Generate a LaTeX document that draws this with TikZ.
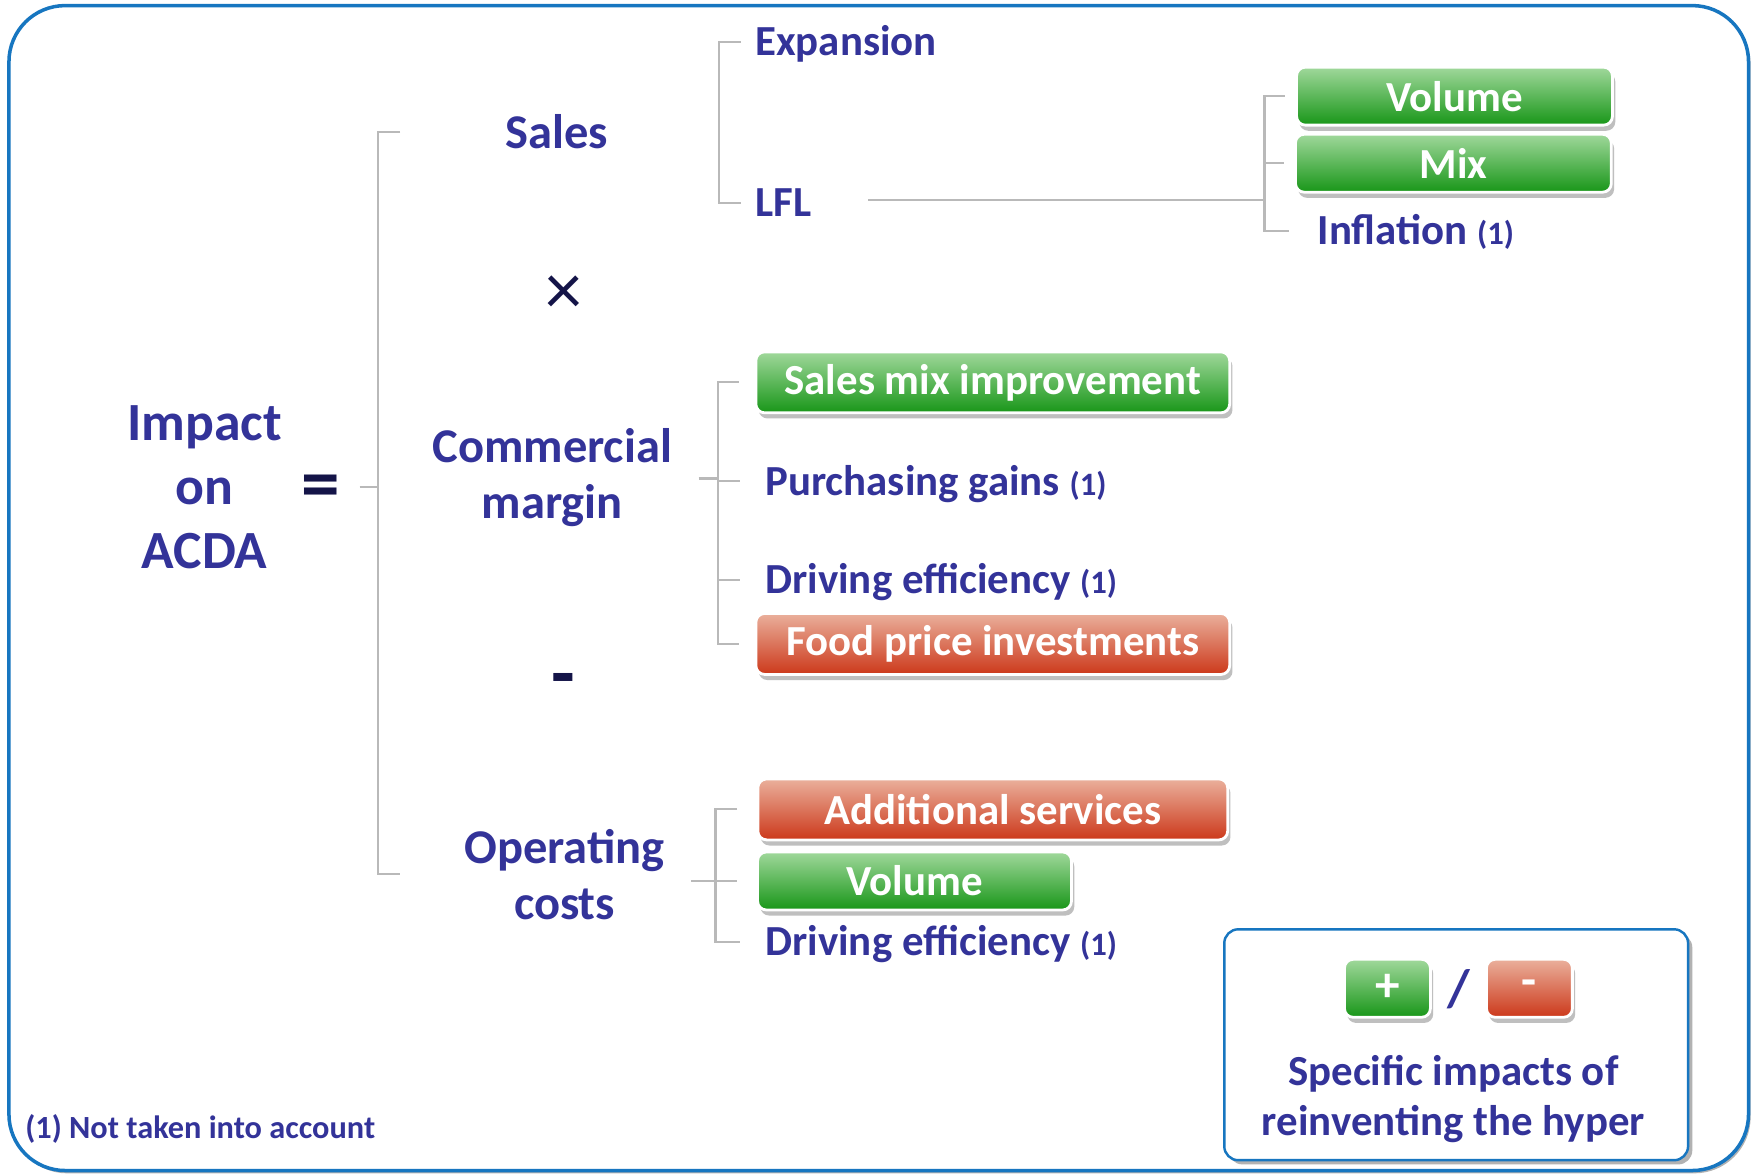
\documentclass[tikz,border=0pt]{standalone}
\usepackage{fontspec}
\setmainfont{Carlito}
\usepackage{tikz}
\usetikzlibrary{positioning, shadows}

\definecolor{navy}{RGB}{51,51,153}
\definecolor{symb}{RGB}{20,20,72}
\definecolor{frameblue}{RGB}{23,118,192}
\definecolor{gtop}{RGB}{160,216,155}
\definecolor{gbot}{RGB}{24,150,24}
\definecolor{rtop}{RGB}{234,176,156}
\definecolor{rbot}{RGB}{204,56,26}
\definecolor{linegray}{RGB}{185,185,185}

\newcommand{\notone}{{\fontsize{9.3}{10}\selectfont (1)}}

\tikzset{
  head/.style={font=\fontsize{13.8}{15.9}\selectfont\bfseries, text=navy, align=center},
  item/.style={font=\fontsize{12.2}{14}\selectfont\bfseries, text=navy, anchor=base west,
    inner sep=0pt, text height=7.9pt, text depth=0pt},
  sym/.style={font=\fontsize{22}{22}\selectfont\bfseries, text=symb},
  conn/.style={draw=linegray, line width=0.6pt},
  box/.style={rounded corners=2.5pt, draw=white, line width=0.8pt, text=white,
    font=\fontsize{12.2}{14}\selectfont\bfseries, inner sep=0pt, minimum height=0.58cm,
    drop shadow={shadow xshift=0.8pt, shadow yshift=-1.6pt, fill=black!25, opacity=1}},
  gbox/.style={box, top color=gtop, bottom color=gbot},
  rbox/.style={box, top color=rtop, bottom color=rbot}
}

\begin{document}
\begin{tikzpicture}[x=0.01118cm, y=-0.01118cm]
\useasboundingbox (0,0) rectangle (1568,1051);

% Frame
\path[fill=white, draw=frameblue, line width=1pt, rounded corners=16pt,
  drop shadow={shadow xshift=0.6pt, shadow yshift=-0.8pt, fill=black!30, opacity=1}]
  (8,5) rectangle (1564,1047);

% Left side
\node[head, font=\fontsize{15.3}{18.2}\selectfont\bfseries] (acda) at (183,436) {Impact\\on\\ACDA};
\node[sym] (eq) at (287,440) {=};
\node[head] (sales) at (498,118) {Sales};
\node[sym, font=\fontsize{21}{21}\selectfont] (times) at (504,264) {×};
\node[head] (cm) at (494,427) {Commercial\\margin};
\node[sym] (minus) at (504,614) {-};
\node[head] (opc) at (505,782) {Operating\\costs};

% Sales branch
\node[item] (expa) at (675,50) {Expansion};
\node[item] (lfl) at (675,194) {LFL};
\node[gbox, minimum width=3.16cm] (vol) at (1301,86) {Volume};
\node[gbox, minimum width=3.16cm] (mix) at (1300,146) {Mix};
\node[item] (infl) at (1178,219) {Inflation \notone};

% Commercial margin branch
\node[gbox, minimum width=4.74cm, minimum height=0.61cm] (smi) at (888,342) {Sales mix improvement};
\node[item] (purch) at (684,443) {Purchasing gains \notone};
\node[item] (drv1) at (684,531) {Driving efficiency \notone};
\node[rbox, minimum width=4.74cm, minimum height=0.61cm] (food) at (888,576) {Food price investments};

% Operating costs branch
\node[rbox, minimum width=4.70cm, minimum height=0.61cm] (adds) at (888,724) {Additional services};
\node[gbox, minimum width=3.14cm] (vol2) at (818,788) {Volume};
\node[item] (drv2) at (684,855) {Driving efficiency \notone};

% Connectors
\coordinate (mbr) at (338,436);
\coordinate (mtick) at (358,436);
\draw[conn, shorten <=2pt] (eq.east |- mbr) -- (mbr);
\draw[conn] (sales.west -| mtick) -| (mbr) |- (opc.west -| mtick);
\coordinate (sbr) at (643,107);
\draw[conn] ([xshift=-4pt]expa.west) -| (sbr) |- ([xshift=-4pt]lfl.west);
\coordinate (lbr) at (1131,179);
\draw[conn, shorten <=16pt] (lfl.east |- lbr) -- (lbr);
\draw[conn] ([xshift=-3pt]vol.west) -| (lbr) |- ([xshift=-8pt]infl.west);
\draw[conn] (lbr |- mix.west) -- ([xshift=-3pt]mix.west);
\coordinate (cbr) at (642,428);
\draw[conn, shorten <=4pt] (cm.east |- cbr) -- (cbr);
\draw[conn] ([xshift=-4.5pt]smi.west) -| (cbr) |- ([xshift=-4.5pt]food.west);
\draw[conn] (cbr |- purch.west) -- ([xshift=-7pt]purch.west);
\draw[conn] (cbr |- drv1.west) -- ([xshift=-7pt]drv1.west);
\coordinate (obr) at (640,788);
\draw[conn, shorten <=4pt] (opc.east |- obr) -- (obr);
\draw[conn] ([xshift=-5.5pt]adds.west) -| (obr) |- ([xshift=-7pt]drv2.west);
\draw[conn] (obr) -- ([xshift=-5.5pt]vol2.west);

% Legend
\node[draw=frameblue, line width=0.7pt, rounded corners=4pt, fill=white,
  minimum width=4.64cm, minimum height=2.31cm,
  drop shadow={shadow xshift=1.2pt, shadow yshift=-1.2pt, fill=black!30, opacity=1}] (legend) at (1302.5,934.5) {};
\node[gbox, minimum width=0.86cm, font=\fontsize{14}{14}\selectfont\bfseries] (plus) at (1241,884) {+};
\node[rbox, minimum width=0.86cm, font=\fontsize{14}{14}\selectfont\bfseries] (neg) at (1368,884) {\raisebox{-1pt}{-}};
\node[font=\fontsize{15}{15}\selectfont\bfseries, text=navy] (slash) at (1305,885) {/};
\node[head, font=\fontsize{12.2}{14.3}\selectfont\bfseries] (spec) at (1300,983) {Specific impacts of\\reinventing the hyper};

% Footnote
\node[item, font=\fontsize{9.2}{11}\selectfont\bfseries] (foot) at (22,1018) {(1) Not taken into account};
\end{tikzpicture}
\end{document}
